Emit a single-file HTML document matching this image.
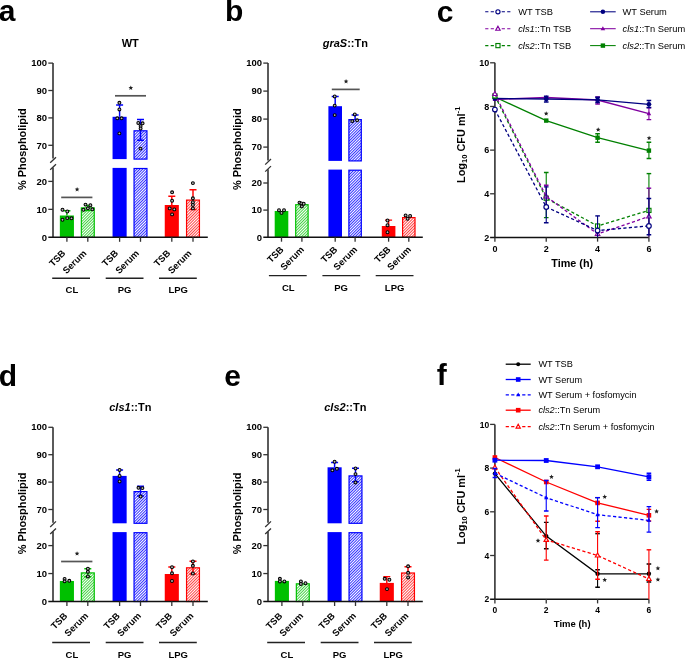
<!DOCTYPE html>
<html><head><meta charset="utf-8"><style>
html,body{margin:0;padding:0;background:#fff;width:685px;height:658px;overflow:hidden}
svg{display:block;will-change:transform}
text{font-family:'Liberation Sans', sans-serif;fill:#000}
</style></head><body>
<svg width="685" height="658" viewBox="0 0 685 658">
<rect width="685" height="658" fill="#fff"/>
<defs>
<pattern id="hg" width="2.0" height="3" patternUnits="userSpaceOnUse" patternTransform="rotate(45)"><rect width="1.0" height="3" fill="#44d444"/></pattern>
<pattern id="hb" width="2.0" height="3" patternUnits="userSpaceOnUse" patternTransform="rotate(45)"><rect width="1.0" height="3" fill="#3333ff"/></pattern>
<pattern id="hr" width="2.0" height="3" patternUnits="userSpaceOnUse" patternTransform="rotate(45)"><rect width="1.0" height="3" fill="#ff4444"/></pattern>
</defs>
<g transform="translate(0,0)">
<text x="-1.2" y="21.1" font-size="30" font-weight="bold">a</text>
<text x="130.3" y="47" text-anchor="middle" font-size="11"><tspan font-weight="bold">WT</tspan></text>
<text transform="translate(26.0,149.2) rotate(-90)" text-anchor="middle" font-size="10.9" font-weight="bold">% Phospholipid</text>
<path d="M53.0,63.1 V158.60 M53.0,167.40 V237.3" stroke="#333333" stroke-width="1.6" fill="none"/>
<path d="M50.2,162.80 L56,157.20 M50.2,169.80 L56,164.30" stroke="#333333" stroke-width="1.3" fill="none"/>
<path d="M48.3,63.10 H53.0" stroke="#333333" stroke-width="1.3"/>
<text x="47" y="66.30" text-anchor="end" font-size="9.5" font-weight="bold">100</text>
<path d="M48.3,90.50 H53.0" stroke="#333333" stroke-width="1.3"/>
<text x="47" y="93.70" text-anchor="end" font-size="9.5" font-weight="bold">90</text>
<path d="M48.3,117.90 H53.0" stroke="#333333" stroke-width="1.3"/>
<text x="47" y="121.10" text-anchor="end" font-size="9.5" font-weight="bold">80</text>
<path d="M48.3,145.30 H53.0" stroke="#333333" stroke-width="1.3"/>
<text x="47" y="148.50" text-anchor="end" font-size="9.5" font-weight="bold">70</text>
<path d="M48.3,181.40 H53.0" stroke="#333333" stroke-width="1.3"/>
<text x="47" y="184.60" text-anchor="end" font-size="9.5" font-weight="bold">20</text>
<path d="M48.3,209.35 H53.0" stroke="#333333" stroke-width="1.3"/>
<text x="47" y="212.55" text-anchor="end" font-size="9.5" font-weight="bold">10</text>
<text x="47" y="240.60" text-anchor="end" font-size="9.5" font-weight="bold">0</text>
<rect x="59.85" y="215.50" width="14.1" height="21.80" fill="#00c000"/>
<path d="M66.90,210.70 V215.50 M63.40,210.70 H70.40" stroke="#00c000" stroke-width="1.45" fill="none"/>
<circle cx="62.50" cy="209.70" r="1.45" fill="#bbbbbb" stroke="#000" stroke-width="1.05"/>
<circle cx="67.30" cy="211.50" r="1.45" fill="#bbbbbb" stroke="#000" stroke-width="1.05"/>
<circle cx="62.50" cy="219.70" r="1.45" fill="#bbbbbb" stroke="#000" stroke-width="1.05"/>
<circle cx="67.30" cy="218.10" r="1.45" fill="#bbbbbb" stroke="#000" stroke-width="1.05"/>
<circle cx="71.50" cy="218.30" r="1.45" fill="#bbbbbb" stroke="#000" stroke-width="1.05"/>
<rect x="81.35" y="207.90" width="12.9" height="29.40" fill="url(#hg)" stroke="#00c000" stroke-width="1.2"/>
<path d="M87.80,205.50 V207.30 M84.30,205.50 H91.30" stroke="#00c000" stroke-width="1.45" fill="none"/>
<path d="M87.80,207.30 V210.50 M84.30,210.50 H91.30" stroke="#00c000" stroke-width="1.45" fill="none"/>
<circle cx="83.40" cy="209.70" r="1.45" fill="#bbbbbb" stroke="#000" stroke-width="1.05"/>
<circle cx="87.90" cy="208.30" r="1.45" fill="#bbbbbb" stroke="#000" stroke-width="1.05"/>
<circle cx="92.40" cy="209.30" r="1.45" fill="#bbbbbb" stroke="#000" stroke-width="1.05"/>
<circle cx="85.50" cy="204.60" r="1.45" fill="#bbbbbb" stroke="#000" stroke-width="1.05"/>
<circle cx="90.40" cy="205.20" r="1.45" fill="#bbbbbb" stroke="#000" stroke-width="1.05"/>
<rect x="112.55" y="116.80" width="14.1" height="42.30" fill="#0000ff"/>
<rect x="112.55" y="167.90" width="14.1" height="69.40" fill="#0000ff"/>
<path d="M119.60,104.90 V116.80 M116.10,104.90 H123.10" stroke="#0000ff" stroke-width="1.45" fill="none"/>
<circle cx="119.40" cy="102.80" r="1.45" fill="#bbbbbb" stroke="#000" stroke-width="1.05"/>
<circle cx="119.40" cy="109.40" r="1.45" fill="#bbbbbb" stroke="#000" stroke-width="1.05"/>
<circle cx="117.30" cy="118.30" r="1.45" fill="#bbbbbb" stroke="#000" stroke-width="1.05"/>
<circle cx="121.60" cy="118.30" r="1.45" fill="#bbbbbb" stroke="#000" stroke-width="1.05"/>
<circle cx="119.40" cy="133.40" r="1.45" fill="#bbbbbb" stroke="#000" stroke-width="1.05"/>
<rect x="134.05" y="130.80" width="12.9" height="28.30" fill="url(#hb)" stroke="#0000ff" stroke-width="1.2"/>
<rect x="134.05" y="168.50" width="12.9" height="68.80" fill="url(#hb)" stroke="#0000ff" stroke-width="1.2"/>
<path d="M140.50,119.40 V130.20 M137.00,119.40 H144.00" stroke="#0000ff" stroke-width="1.45" fill="none"/>
<path d="M140.50,130.20 V140.30 M137.00,140.30 H144.00" stroke="#0000ff" stroke-width="1.45" fill="none"/>
<circle cx="138.30" cy="122.90" r="1.45" fill="#bbbbbb" stroke="#000" stroke-width="1.05"/>
<circle cx="142.60" cy="123.30" r="1.45" fill="#bbbbbb" stroke="#000" stroke-width="1.05"/>
<circle cx="140.60" cy="126.10" r="1.45" fill="#bbbbbb" stroke="#000" stroke-width="1.05"/>
<circle cx="140.60" cy="128.50" r="1.45" fill="#bbbbbb" stroke="#000" stroke-width="1.05"/>
<circle cx="140.50" cy="148.60" r="1.45" fill="#bbbbbb" stroke="#000" stroke-width="1.05"/>
<rect x="164.75" y="205.00" width="14.1" height="32.30" fill="#ff0000"/>
<path d="M171.80,196.30 V205.00 M168.30,196.30 H175.30" stroke="#ff0000" stroke-width="1.45" fill="none"/>
<circle cx="172.10" cy="192.30" r="1.45" fill="#bbbbbb" stroke="#000" stroke-width="1.05"/>
<circle cx="172.10" cy="200.70" r="1.45" fill="#bbbbbb" stroke="#000" stroke-width="1.05"/>
<circle cx="169.70" cy="208.40" r="1.45" fill="#bbbbbb" stroke="#000" stroke-width="1.05"/>
<circle cx="174.30" cy="209.40" r="1.45" fill="#bbbbbb" stroke="#000" stroke-width="1.05"/>
<circle cx="172.10" cy="214.40" r="1.45" fill="#bbbbbb" stroke="#000" stroke-width="1.05"/>
<rect x="186.55" y="200.10" width="12.9" height="37.20" fill="url(#hr)" stroke="#ff0000" stroke-width="1.2"/>
<path d="M193.00,189.70 V199.50 M189.50,189.70 H196.50" stroke="#ff0000" stroke-width="1.45" fill="none"/>
<path d="M193.00,199.50 V209.40 M189.50,209.40 H196.50" stroke="#ff0000" stroke-width="1.45" fill="none"/>
<circle cx="192.90" cy="183.10" r="1.45" fill="#bbbbbb" stroke="#000" stroke-width="1.05"/>
<circle cx="192.90" cy="198.30" r="1.45" fill="#bbbbbb" stroke="#000" stroke-width="1.05"/>
<circle cx="192.90" cy="202.20" r="1.45" fill="#bbbbbb" stroke="#000" stroke-width="1.05"/>
<circle cx="192.90" cy="204.90" r="1.45" fill="#bbbbbb" stroke="#000" stroke-width="1.05"/>
<circle cx="192.90" cy="208.40" r="1.45" fill="#bbbbbb" stroke="#000" stroke-width="1.05"/>
<path d="M48.3,237.3 H207.8" stroke="#111" stroke-width="1.6"/>
<path d="M66.9,237.3 V241.80" stroke="#333333" stroke-width="1.3"/>
<path d="M87.8,237.3 V241.80" stroke="#333333" stroke-width="1.3"/>
<path d="M119.6,237.3 V241.80" stroke="#333333" stroke-width="1.3"/>
<path d="M140.5,237.3 V241.80" stroke="#333333" stroke-width="1.3"/>
<path d="M171.8,237.3 V241.80" stroke="#333333" stroke-width="1.3"/>
<path d="M193.0,237.3 V241.80" stroke="#333333" stroke-width="1.3"/>
<text transform="translate(66.10,253.80) rotate(-45)" text-anchor="end" font-size="9.3" font-weight="bold">TSB</text>
<text transform="translate(87.00,253.80) rotate(-45)" text-anchor="end" font-size="9.3" font-weight="bold">Serum</text>
<text transform="translate(118.80,253.80) rotate(-45)" text-anchor="end" font-size="9.3" font-weight="bold">TSB</text>
<text transform="translate(139.70,253.80) rotate(-45)" text-anchor="end" font-size="9.3" font-weight="bold">Serum</text>
<text transform="translate(171.00,253.80) rotate(-45)" text-anchor="end" font-size="9.3" font-weight="bold">TSB</text>
<text transform="translate(192.20,253.80) rotate(-45)" text-anchor="end" font-size="9.3" font-weight="bold">Serum</text>
<path d="M52.20,278.30 H90.00" stroke="#222" stroke-width="1.4"/>
<text x="71.90" y="293.40" text-anchor="middle" font-size="9.5" font-weight="bold">CL</text>
<path d="M105.70,278.30 H143.50" stroke="#222" stroke-width="1.4"/>
<text x="124.60" y="293.40" text-anchor="middle" font-size="9.5" font-weight="bold">PG</text>
<path d="M159.00,278.30 H196.80" stroke="#222" stroke-width="1.4"/>
<text x="178.20" y="293.40" text-anchor="middle" font-size="9.5" font-weight="bold">LPG</text>
<path d="M61.2,197.4 H92.4" stroke="#555" stroke-width="1.7"/>
<polygon points="77.10,187.05 77.75,188.61 79.43,188.74 78.15,189.84 78.54,191.48 77.10,190.60 75.66,191.48 76.05,189.84 74.77,188.74 76.45,188.61" fill="#222"/>
<path d="M115,95.8 H146" stroke="#555" stroke-width="1.7"/>
<polygon points="130.80,85.45 131.45,87.01 133.13,87.14 131.85,88.24 132.24,89.88 130.80,89.00 129.36,89.88 129.75,88.24 128.47,87.14 130.15,87.01" fill="#222"/>
</g>
<g transform="translate(215,0)">
<text x="10.0" y="21.2" font-size="30" font-weight="bold">b</text>
<text x="130.3" y="47" text-anchor="middle" font-size="11"><tspan font-weight="bold" font-style="italic">graS</tspan><tspan font-weight="bold">::Tn</tspan></text>
<text transform="translate(26.0,149.2) rotate(-90)" text-anchor="middle" font-size="10.9" font-weight="bold">% Phospholipid</text>
<path d="M53.0,63.1 V160.40 M53.0,169.20 V237.2" stroke="#333333" stroke-width="1.6" fill="none"/>
<path d="M50.2,164.60 L56,159.00 M50.2,171.60 L56,166.10" stroke="#333333" stroke-width="1.3" fill="none"/>
<path d="M48.3,63.10 H53.0" stroke="#333333" stroke-width="1.3"/>
<text x="47" y="66.30" text-anchor="end" font-size="9.5" font-weight="bold">100</text>
<path d="M48.3,91.10 H53.0" stroke="#333333" stroke-width="1.3"/>
<text x="47" y="94.30" text-anchor="end" font-size="9.5" font-weight="bold">90</text>
<path d="M48.3,119.10 H53.0" stroke="#333333" stroke-width="1.3"/>
<text x="47" y="122.30" text-anchor="end" font-size="9.5" font-weight="bold">80</text>
<path d="M48.3,147.10 H53.0" stroke="#333333" stroke-width="1.3"/>
<text x="47" y="150.30" text-anchor="end" font-size="9.5" font-weight="bold">70</text>
<path d="M48.3,183.00 H53.0" stroke="#333333" stroke-width="1.3"/>
<text x="47" y="186.20" text-anchor="end" font-size="9.5" font-weight="bold">20</text>
<path d="M48.3,210.10 H53.0" stroke="#333333" stroke-width="1.3"/>
<text x="47" y="213.30" text-anchor="end" font-size="9.5" font-weight="bold">10</text>
<text x="47" y="240.50" text-anchor="end" font-size="9.5" font-weight="bold">0</text>
<rect x="59.70" y="211.00" width="13.6" height="26.20" fill="#00c000"/>
<circle cx="64.00" cy="210.20" r="1.45" fill="#bbbbbb" stroke="#000" stroke-width="1.05"/>
<circle cx="69.00" cy="210.20" r="1.45" fill="#bbbbbb" stroke="#000" stroke-width="1.05"/>
<circle cx="66.50" cy="212.90" r="1.45" fill="#bbbbbb" stroke="#000" stroke-width="1.05"/>
<rect x="80.70" y="204.70" width="12.4" height="32.50" fill="url(#hg)" stroke="#00c000" stroke-width="1.2"/>
<circle cx="84.50" cy="202.60" r="1.45" fill="#bbbbbb" stroke="#000" stroke-width="1.05"/>
<circle cx="86.40" cy="203.40" r="1.45" fill="#bbbbbb" stroke="#000" stroke-width="1.05"/>
<circle cx="88.70" cy="203.70" r="1.45" fill="#bbbbbb" stroke="#000" stroke-width="1.05"/>
<circle cx="86.80" cy="206.40" r="1.45" fill="#bbbbbb" stroke="#000" stroke-width="1.05"/>
<rect x="113.40" y="106.20" width="13.6" height="54.70" fill="#0000ff"/>
<rect x="113.40" y="169.60" width="13.6" height="67.60" fill="#0000ff"/>
<path d="M120.20,96.40 V106.20 M116.70,96.40 H123.70" stroke="#0000ff" stroke-width="1.45" fill="none"/>
<circle cx="119.70" cy="96.40" r="1.45" fill="#bbbbbb" stroke="#000" stroke-width="1.05"/>
<circle cx="119.70" cy="105.60" r="1.45" fill="#bbbbbb" stroke="#000" stroke-width="1.05"/>
<circle cx="119.70" cy="115.10" r="1.45" fill="#bbbbbb" stroke="#000" stroke-width="1.05"/>
<rect x="133.90" y="119.60" width="12.4" height="41.30" fill="url(#hb)" stroke="#0000ff" stroke-width="1.2"/>
<rect x="133.90" y="170.20" width="12.4" height="67.00" fill="url(#hb)" stroke="#0000ff" stroke-width="1.2"/>
<path d="M140.10,114.90 V119.00 M136.60,114.90 H143.60" stroke="#0000ff" stroke-width="1.45" fill="none"/>
<circle cx="139.80" cy="114.40" r="1.45" fill="#bbbbbb" stroke="#000" stroke-width="1.05"/>
<circle cx="137.30" cy="121.10" r="1.45" fill="#bbbbbb" stroke="#000" stroke-width="1.05"/>
<circle cx="142.10" cy="120.30" r="1.45" fill="#bbbbbb" stroke="#000" stroke-width="1.05"/>
<rect x="166.80" y="226.00" width="13.6" height="11.20" fill="#ff0000"/>
<path d="M173.60,220.10 V226.00 M170.10,220.10 H177.10" stroke="#ff0000" stroke-width="1.45" fill="none"/>
<circle cx="172.50" cy="220.50" r="1.45" fill="#bbbbbb" stroke="#000" stroke-width="1.05"/>
<circle cx="172.50" cy="225.20" r="1.45" fill="#bbbbbb" stroke="#000" stroke-width="1.05"/>
<circle cx="172.50" cy="232.20" r="1.45" fill="#bbbbbb" stroke="#000" stroke-width="1.05"/>
<rect x="187.60" y="217.60" width="12.4" height="19.60" fill="url(#hr)" stroke="#ff0000" stroke-width="1.2"/>
<circle cx="190.60" cy="215.40" r="1.45" fill="#bbbbbb" stroke="#000" stroke-width="1.05"/>
<circle cx="195.10" cy="215.90" r="1.45" fill="#bbbbbb" stroke="#000" stroke-width="1.05"/>
<circle cx="192.60" cy="218.70" r="1.45" fill="#bbbbbb" stroke="#000" stroke-width="1.05"/>
<path d="M48.3,237.2 H207.8" stroke="#111" stroke-width="1.6"/>
<path d="M66.5,237.2 V241.70" stroke="#333333" stroke-width="1.3"/>
<path d="M86.9,237.2 V241.70" stroke="#333333" stroke-width="1.3"/>
<path d="M120.2,237.2 V241.70" stroke="#333333" stroke-width="1.3"/>
<path d="M140.1,237.2 V241.70" stroke="#333333" stroke-width="1.3"/>
<path d="M173.6,237.2 V241.70" stroke="#333333" stroke-width="1.3"/>
<path d="M193.8,237.2 V241.70" stroke="#333333" stroke-width="1.3"/>
<text transform="translate(69.20,250.20) rotate(-45)" text-anchor="end" font-size="9.3" font-weight="bold">TSB</text>
<text transform="translate(89.60,250.20) rotate(-45)" text-anchor="end" font-size="9.3" font-weight="bold">Serum</text>
<text transform="translate(122.90,250.20) rotate(-45)" text-anchor="end" font-size="9.3" font-weight="bold">TSB</text>
<text transform="translate(142.80,250.20) rotate(-45)" text-anchor="end" font-size="9.3" font-weight="bold">Serum</text>
<text transform="translate(176.30,250.20) rotate(-45)" text-anchor="end" font-size="9.3" font-weight="bold">TSB</text>
<text transform="translate(196.50,250.20) rotate(-45)" text-anchor="end" font-size="9.3" font-weight="bold">Serum</text>
<path d="M53.90,275.60 H91.70" stroke="#222" stroke-width="1.4"/>
<text x="73.30" y="290.50" text-anchor="middle" font-size="9.5" font-weight="bold">CL</text>
<path d="M107.40,275.60 H145.20" stroke="#222" stroke-width="1.4"/>
<text x="126.00" y="290.50" text-anchor="middle" font-size="9.5" font-weight="bold">PG</text>
<path d="M160.70,275.60 H198.50" stroke="#222" stroke-width="1.4"/>
<text x="179.60" y="290.50" text-anchor="middle" font-size="9.5" font-weight="bold">LPG</text>
<path d="M116.8,89.4 H144.7" stroke="#555" stroke-width="1.7"/>
<polygon points="131.05,79.05 131.70,80.61 133.38,80.74 132.10,81.84 132.49,83.48 131.05,82.60 129.61,83.48 130.00,81.84 128.72,80.74 130.40,80.61" fill="#222"/>
</g>
<g transform="translate(0,364.2)">
<text x="-1.2" y="21.8" font-size="30" font-weight="bold">d</text>
<text x="130.3" y="47" text-anchor="middle" font-size="11"><tspan font-weight="bold" font-style="italic">cls1</tspan><tspan font-weight="bold">::Tn</tspan></text>
<text transform="translate(26.0,149.2) rotate(-90)" text-anchor="middle" font-size="10.9" font-weight="bold">% Phospholipid</text>
<path d="M53.0,63.1 V158.60 M53.0,167.40 V237.3" stroke="#333333" stroke-width="1.6" fill="none"/>
<path d="M50.2,162.80 L56,157.20 M50.2,169.80 L56,164.30" stroke="#333333" stroke-width="1.3" fill="none"/>
<path d="M48.3,63.10 H53.0" stroke="#333333" stroke-width="1.3"/>
<text x="47" y="66.30" text-anchor="end" font-size="9.5" font-weight="bold">100</text>
<path d="M48.3,90.50 H53.0" stroke="#333333" stroke-width="1.3"/>
<text x="47" y="93.70" text-anchor="end" font-size="9.5" font-weight="bold">90</text>
<path d="M48.3,117.90 H53.0" stroke="#333333" stroke-width="1.3"/>
<text x="47" y="121.10" text-anchor="end" font-size="9.5" font-weight="bold">80</text>
<path d="M48.3,145.30 H53.0" stroke="#333333" stroke-width="1.3"/>
<text x="47" y="148.50" text-anchor="end" font-size="9.5" font-weight="bold">70</text>
<path d="M48.3,181.40 H53.0" stroke="#333333" stroke-width="1.3"/>
<text x="47" y="184.60" text-anchor="end" font-size="9.5" font-weight="bold">20</text>
<path d="M48.3,209.35 H53.0" stroke="#333333" stroke-width="1.3"/>
<text x="47" y="212.55" text-anchor="end" font-size="9.5" font-weight="bold">10</text>
<text x="47" y="240.60" text-anchor="end" font-size="9.5" font-weight="bold">0</text>
<rect x="59.85" y="216.80" width="14.1" height="20.50" fill="#00c000"/>
<circle cx="64.60" cy="214.80" r="1.45" fill="#bbbbbb" stroke="#000" stroke-width="1.05"/>
<circle cx="64.60" cy="217.10" r="1.45" fill="#bbbbbb" stroke="#000" stroke-width="1.05"/>
<circle cx="69.30" cy="216.60" r="1.45" fill="#bbbbbb" stroke="#000" stroke-width="1.05"/>
<rect x="81.35" y="208.70" width="12.9" height="28.60" fill="url(#hg)" stroke="#00c000" stroke-width="1.2"/>
<path d="M87.80,204.50 V208.10 M84.30,204.50 H91.30" stroke="#00c000" stroke-width="1.45" fill="none"/>
<path d="M87.80,208.10 V212.60 M84.30,212.60 H91.30" stroke="#00c000" stroke-width="1.45" fill="none"/>
<circle cx="87.90" cy="204.50" r="1.45" fill="#bbbbbb" stroke="#000" stroke-width="1.05"/>
<circle cx="87.90" cy="207.60" r="1.45" fill="#bbbbbb" stroke="#000" stroke-width="1.05"/>
<circle cx="87.90" cy="212.20" r="1.45" fill="#bbbbbb" stroke="#000" stroke-width="1.05"/>
<rect x="112.55" y="111.70" width="14.1" height="47.40" fill="#0000ff"/>
<rect x="112.55" y="167.90" width="14.1" height="69.40" fill="#0000ff"/>
<path d="M119.60,105.70 V111.70 M116.10,105.70 H123.10" stroke="#0000ff" stroke-width="1.45" fill="none"/>
<circle cx="119.60" cy="105.70" r="1.45" fill="#bbbbbb" stroke="#000" stroke-width="1.05"/>
<circle cx="119.60" cy="111.70" r="1.45" fill="#bbbbbb" stroke="#000" stroke-width="1.05"/>
<circle cx="119.60" cy="117.20" r="1.45" fill="#bbbbbb" stroke="#000" stroke-width="1.05"/>
<rect x="134.05" y="127.40" width="12.9" height="31.70" fill="url(#hb)" stroke="#0000ff" stroke-width="1.2"/>
<rect x="134.05" y="168.50" width="12.9" height="68.80" fill="url(#hb)" stroke="#0000ff" stroke-width="1.2"/>
<path d="M140.50,122.00 V126.80 M137.00,122.00 H144.00" stroke="#0000ff" stroke-width="1.45" fill="none"/>
<path d="M140.50,126.80 V131.80 M137.00,131.80 H144.00" stroke="#0000ff" stroke-width="1.45" fill="none"/>
<circle cx="138.50" cy="123.60" r="1.45" fill="#bbbbbb" stroke="#000" stroke-width="1.05"/>
<circle cx="142.40" cy="123.90" r="1.45" fill="#bbbbbb" stroke="#000" stroke-width="1.05"/>
<circle cx="140.60" cy="132.30" r="1.45" fill="#bbbbbb" stroke="#000" stroke-width="1.05"/>
<rect x="164.75" y="209.80" width="14.1" height="27.50" fill="#ff0000"/>
<path d="M171.80,202.70 V209.80 M168.30,202.70 H175.30" stroke="#ff0000" stroke-width="1.45" fill="none"/>
<circle cx="172.00" cy="203.00" r="1.45" fill="#bbbbbb" stroke="#000" stroke-width="1.05"/>
<circle cx="172.00" cy="209.10" r="1.45" fill="#bbbbbb" stroke="#000" stroke-width="1.05"/>
<circle cx="172.00" cy="216.80" r="1.45" fill="#bbbbbb" stroke="#000" stroke-width="1.05"/>
<rect x="186.55" y="203.60" width="12.9" height="33.70" fill="url(#hr)" stroke="#ff0000" stroke-width="1.2"/>
<path d="M193.00,197.00 V203.00 M189.50,197.00 H196.50" stroke="#ff0000" stroke-width="1.45" fill="none"/>
<path d="M193.00,203.00 V209.80 M189.50,209.80 H196.50" stroke="#ff0000" stroke-width="1.45" fill="none"/>
<circle cx="192.90" cy="197.20" r="1.45" fill="#bbbbbb" stroke="#000" stroke-width="1.05"/>
<circle cx="192.90" cy="201.60" r="1.45" fill="#bbbbbb" stroke="#000" stroke-width="1.05"/>
<circle cx="192.90" cy="209.30" r="1.45" fill="#bbbbbb" stroke="#000" stroke-width="1.05"/>
<path d="M48.3,237.3 H207.8" stroke="#111" stroke-width="1.6"/>
<path d="M66.9,237.3 V241.80" stroke="#333333" stroke-width="1.3"/>
<path d="M87.8,237.3 V241.80" stroke="#333333" stroke-width="1.3"/>
<path d="M119.6,237.3 V241.80" stroke="#333333" stroke-width="1.3"/>
<path d="M140.5,237.3 V241.80" stroke="#333333" stroke-width="1.3"/>
<path d="M171.8,237.3 V241.80" stroke="#333333" stroke-width="1.3"/>
<path d="M193.0,237.3 V241.80" stroke="#333333" stroke-width="1.3"/>
<text transform="translate(67.90,252.30) rotate(-45)" text-anchor="end" font-size="9.3" font-weight="bold">TSB</text>
<text transform="translate(88.80,252.30) rotate(-45)" text-anchor="end" font-size="9.3" font-weight="bold">Serum</text>
<text transform="translate(120.60,252.30) rotate(-45)" text-anchor="end" font-size="9.3" font-weight="bold">TSB</text>
<text transform="translate(141.50,252.30) rotate(-45)" text-anchor="end" font-size="9.3" font-weight="bold">Serum</text>
<text transform="translate(172.80,252.30) rotate(-45)" text-anchor="end" font-size="9.3" font-weight="bold">TSB</text>
<text transform="translate(194.00,252.30) rotate(-45)" text-anchor="end" font-size="9.3" font-weight="bold">Serum</text>
<path d="M52.20,278.30 H90.00" stroke="#222" stroke-width="1.4"/>
<text x="71.90" y="293.40" text-anchor="middle" font-size="9.5" font-weight="bold">CL</text>
<path d="M105.70,278.30 H143.50" stroke="#222" stroke-width="1.4"/>
<text x="124.60" y="293.40" text-anchor="middle" font-size="9.5" font-weight="bold">PG</text>
<path d="M159.00,278.30 H196.80" stroke="#222" stroke-width="1.4"/>
<text x="178.20" y="293.40" text-anchor="middle" font-size="9.5" font-weight="bold">LPG</text>
<path d="M61.1,197.3 H92.4" stroke="#555" stroke-width="1.7"/>
<polygon points="77.05,186.95 77.70,188.51 79.38,188.64 78.10,189.74 78.49,191.38 77.05,190.50 75.61,191.38 76.00,189.74 74.72,188.64 76.40,188.51" fill="#222"/>
</g>
<g transform="translate(215,364.2)">
<text x="9.2" y="21.8" font-size="30" font-weight="bold">e</text>
<text x="130.3" y="47" text-anchor="middle" font-size="11"><tspan font-weight="bold" font-style="italic">cls2</tspan><tspan font-weight="bold">::Tn</tspan></text>
<text transform="translate(26.0,149.2) rotate(-90)" text-anchor="middle" font-size="10.9" font-weight="bold">% Phospholipid</text>
<path d="M53.0,63.1 V158.60 M53.0,167.40 V237.3" stroke="#333333" stroke-width="1.6" fill="none"/>
<path d="M50.2,162.80 L56,157.20 M50.2,169.80 L56,164.30" stroke="#333333" stroke-width="1.3" fill="none"/>
<path d="M48.3,63.10 H53.0" stroke="#333333" stroke-width="1.3"/>
<text x="47" y="66.30" text-anchor="end" font-size="9.5" font-weight="bold">100</text>
<path d="M48.3,90.50 H53.0" stroke="#333333" stroke-width="1.3"/>
<text x="47" y="93.70" text-anchor="end" font-size="9.5" font-weight="bold">90</text>
<path d="M48.3,117.90 H53.0" stroke="#333333" stroke-width="1.3"/>
<text x="47" y="121.10" text-anchor="end" font-size="9.5" font-weight="bold">80</text>
<path d="M48.3,145.30 H53.0" stroke="#333333" stroke-width="1.3"/>
<text x="47" y="148.50" text-anchor="end" font-size="9.5" font-weight="bold">70</text>
<path d="M48.3,181.40 H53.0" stroke="#333333" stroke-width="1.3"/>
<text x="47" y="184.60" text-anchor="end" font-size="9.5" font-weight="bold">20</text>
<path d="M48.3,209.35 H53.0" stroke="#333333" stroke-width="1.3"/>
<text x="47" y="212.55" text-anchor="end" font-size="9.5" font-weight="bold">10</text>
<text x="47" y="240.60" text-anchor="end" font-size="9.5" font-weight="bold">0</text>
<rect x="59.85" y="216.70" width="14.1" height="20.60" fill="#00c000"/>
<circle cx="64.90" cy="214.60" r="1.45" fill="#bbbbbb" stroke="#000" stroke-width="1.05"/>
<circle cx="64.90" cy="217.20" r="1.45" fill="#bbbbbb" stroke="#000" stroke-width="1.05"/>
<circle cx="69.40" cy="217.20" r="1.45" fill="#bbbbbb" stroke="#000" stroke-width="1.05"/>
<rect x="81.35" y="219.60" width="12.9" height="17.70" fill="url(#hg)" stroke="#00c000" stroke-width="1.2"/>
<circle cx="85.90" cy="217.20" r="1.45" fill="#bbbbbb" stroke="#000" stroke-width="1.05"/>
<circle cx="85.90" cy="219.70" r="1.45" fill="#bbbbbb" stroke="#000" stroke-width="1.05"/>
<circle cx="90.50" cy="219.00" r="1.45" fill="#bbbbbb" stroke="#000" stroke-width="1.05"/>
<rect x="112.55" y="103.10" width="14.1" height="56.00" fill="#0000ff"/>
<rect x="112.55" y="167.90" width="14.1" height="69.40" fill="#0000ff"/>
<path d="M119.60,98.20 V103.10 M116.10,98.20 H123.10" stroke="#0000ff" stroke-width="1.45" fill="none"/>
<circle cx="119.60" cy="97.50" r="1.45" fill="#bbbbbb" stroke="#000" stroke-width="1.05"/>
<circle cx="117.40" cy="106.10" r="1.45" fill="#bbbbbb" stroke="#000" stroke-width="1.05"/>
<circle cx="121.90" cy="104.60" r="1.45" fill="#bbbbbb" stroke="#000" stroke-width="1.05"/>
<rect x="134.05" y="111.70" width="12.9" height="47.40" fill="url(#hb)" stroke="#0000ff" stroke-width="1.2"/>
<rect x="134.05" y="168.50" width="12.9" height="68.80" fill="url(#hb)" stroke="#0000ff" stroke-width="1.2"/>
<path d="M140.50,104.00 V111.10 M137.00,104.00 H144.00" stroke="#0000ff" stroke-width="1.45" fill="none"/>
<path d="M140.50,111.10 V117.60 M137.00,117.60 H144.00" stroke="#0000ff" stroke-width="1.45" fill="none"/>
<circle cx="140.50" cy="104.20" r="1.45" fill="#bbbbbb" stroke="#000" stroke-width="1.05"/>
<circle cx="140.50" cy="109.90" r="1.45" fill="#bbbbbb" stroke="#000" stroke-width="1.05"/>
<circle cx="140.50" cy="118.20" r="1.45" fill="#bbbbbb" stroke="#000" stroke-width="1.05"/>
<rect x="164.75" y="218.70" width="14.1" height="18.60" fill="#ff0000"/>
<path d="M171.80,212.40 V218.70 M168.30,212.40 H175.30" stroke="#ff0000" stroke-width="1.45" fill="none"/>
<circle cx="169.70" cy="214.60" r="1.45" fill="#bbbbbb" stroke="#000" stroke-width="1.05"/>
<circle cx="174.40" cy="215.50" r="1.45" fill="#bbbbbb" stroke="#000" stroke-width="1.05"/>
<circle cx="172.00" cy="224.90" r="1.45" fill="#bbbbbb" stroke="#000" stroke-width="1.05"/>
<rect x="186.55" y="208.80" width="12.9" height="28.50" fill="url(#hr)" stroke="#ff0000" stroke-width="1.2"/>
<path d="M193.00,202.50 V208.20 M189.50,202.50 H196.50" stroke="#ff0000" stroke-width="1.45" fill="none"/>
<circle cx="193.10" cy="202.10" r="1.45" fill="#bbbbbb" stroke="#000" stroke-width="1.05"/>
<circle cx="193.10" cy="208.60" r="1.45" fill="#bbbbbb" stroke="#000" stroke-width="1.05"/>
<circle cx="193.10" cy="213.20" r="1.45" fill="#bbbbbb" stroke="#000" stroke-width="1.05"/>
<path d="M48.3,237.3 H207.8" stroke="#111" stroke-width="1.6"/>
<path d="M66.9,237.3 V241.80" stroke="#333333" stroke-width="1.3"/>
<path d="M87.8,237.3 V241.80" stroke="#333333" stroke-width="1.3"/>
<path d="M119.6,237.3 V241.80" stroke="#333333" stroke-width="1.3"/>
<path d="M140.5,237.3 V241.80" stroke="#333333" stroke-width="1.3"/>
<path d="M171.8,237.3 V241.80" stroke="#333333" stroke-width="1.3"/>
<path d="M193.0,237.3 V241.80" stroke="#333333" stroke-width="1.3"/>
<text transform="translate(67.90,252.30) rotate(-45)" text-anchor="end" font-size="9.3" font-weight="bold">TSB</text>
<text transform="translate(88.80,252.30) rotate(-45)" text-anchor="end" font-size="9.3" font-weight="bold">Serum</text>
<text transform="translate(120.60,252.30) rotate(-45)" text-anchor="end" font-size="9.3" font-weight="bold">TSB</text>
<text transform="translate(141.50,252.30) rotate(-45)" text-anchor="end" font-size="9.3" font-weight="bold">Serum</text>
<text transform="translate(172.80,252.30) rotate(-45)" text-anchor="end" font-size="9.3" font-weight="bold">TSB</text>
<text transform="translate(194.00,252.30) rotate(-45)" text-anchor="end" font-size="9.3" font-weight="bold">Serum</text>
<path d="M52.20,278.30 H90.00" stroke="#222" stroke-width="1.4"/>
<text x="71.90" y="293.40" text-anchor="middle" font-size="9.5" font-weight="bold">CL</text>
<path d="M105.70,278.30 H143.50" stroke="#222" stroke-width="1.4"/>
<text x="124.60" y="293.40" text-anchor="middle" font-size="9.5" font-weight="bold">PG</text>
<path d="M159.00,278.30 H196.80" stroke="#222" stroke-width="1.4"/>
<text x="178.20" y="293.40" text-anchor="middle" font-size="9.5" font-weight="bold">LPG</text>
</g>
<text x="436.8" y="21.8" font-size="30" font-weight="bold">c</text>
<g>
<path d="M485.2,11.8 H510.7" stroke="#000080" stroke-width="1.05" stroke-dasharray="3.2,2.3"/>
<circle cx="497.95" cy="11.80" r="2.08" fill="#fff" stroke="#000080" stroke-width="1.15"/>
<text x="518.2" y="14.80" font-size="9.3" fill="#333">WT TSB</text>
<path d="M485.2,28.7 H510.7" stroke="#8000a0" stroke-width="1.05" stroke-dasharray="3.2,2.3"/>
<path d="M497.95,26.20 L500.18,30.23 L495.72,30.23 Z" fill="#fff" stroke="#8000a0" stroke-width="1.15" stroke-linejoin="miter"/>
<text x="518.2" y="31.70" font-size="9.3" fill="#333"><tspan font-style="italic">cls1</tspan>::Tn TSB</text>
<path d="M485.2,45.6 H510.7" stroke="#008000" stroke-width="1.05" stroke-dasharray="3.2,2.3"/>
<rect x="495.88" y="43.52" width="4.15" height="4.15" fill="#fff" stroke="#008000" stroke-width="1.15"/>
<text x="518.2" y="48.60" font-size="9.3" fill="#333"><tspan font-style="italic">cls2</tspan>::Tn TSB</text>
<path d="M590.1,11.8 H615.7" stroke="#000080" stroke-width="1.05"/>
<circle cx="602.90" cy="11.80" r="2.25" fill="#000080"/>
<text x="622.6" y="14.80" font-size="9.3" fill="#333">WT Serum</text>
<path d="M590.1,28.7 H615.7" stroke="#8000a0" stroke-width="1.05"/>
<path d="M602.90,26.20 L605.20,30.23 L600.60,30.23 Z" fill="#8000a0"/>
<text x="622.6" y="31.70" font-size="9.3" fill="#333"><tspan font-style="italic">cls1</tspan>::Tn Serum</text>
<path d="M590.1,45.6 H615.7" stroke="#008000" stroke-width="1.05"/>
<rect x="600.70" y="43.40" width="4.40" height="4.40" fill="#008000"/>
<text x="622.6" y="48.60" font-size="9.3" fill="#333"><tspan font-style="italic">cls2</tspan>::Tn Serum</text>
<path d="M494.9,62.8 V237.44" stroke="#333333" stroke-width="1.6" fill="none"/>
<path d="M490.09999999999997,237.44 H648.92" stroke="#111" stroke-width="1.6" fill="none"/>
<path d="M490.09999999999997,62.80 H494.9" stroke="#333333" stroke-width="1.3"/>
<path d="M490.09999999999997,106.46 H494.9" stroke="#333333" stroke-width="1.3"/>
<path d="M490.09999999999997,150.12 H494.9" stroke="#333333" stroke-width="1.3"/>
<path d="M490.09999999999997,193.78 H494.9" stroke="#333333" stroke-width="1.3"/>
<text x="489.3" y="66.00" text-anchor="end" font-size="9" font-weight="bold">10</text>
<text x="489.3" y="109.66" text-anchor="end" font-size="9" font-weight="bold">8</text>
<text x="489.3" y="153.32" text-anchor="end" font-size="9" font-weight="bold">6</text>
<text x="489.3" y="196.98" text-anchor="end" font-size="9" font-weight="bold">4</text>
<text x="489.3" y="240.64" text-anchor="end" font-size="9" font-weight="bold">2</text>
<path d="M494.90,237.44 V241.64" stroke="#333333" stroke-width="1.3"/>
<text x="494.90" y="252.34" text-anchor="middle" font-size="9" font-weight="bold">0</text>
<path d="M546.24,237.44 V241.64" stroke="#333333" stroke-width="1.3"/>
<text x="546.24" y="252.34" text-anchor="middle" font-size="9" font-weight="bold">2</text>
<path d="M597.58,237.44 V241.64" stroke="#333333" stroke-width="1.3"/>
<text x="597.58" y="252.34" text-anchor="middle" font-size="9" font-weight="bold">4</text>
<path d="M648.92,237.44 V241.64" stroke="#333333" stroke-width="1.3"/>
<text x="648.92" y="252.34" text-anchor="middle" font-size="9" font-weight="bold">6</text>
<text x="572.2" y="267.2" text-anchor="middle" font-size="10.8" font-weight="bold">Time (h)</text>
<text transform="translate(464.8,144.80) rotate(-90)" text-anchor="middle" font-size="10.9" font-weight="bold">Log<tspan font-size="7.6" dy="2.6">10</tspan><tspan dy="-2.6"> CFU ml</tspan><tspan font-size="7.6" dy="-4.8">-1</tspan></text>
<path d="M597.58,133.70 V142.20" stroke="#008000" stroke-width="1.1" fill="none"/>
<path d="M595.28,133.70 H599.88 M595.28,142.20 H599.88" stroke="#008000" stroke-width="1.4" fill="none"/>
<path d="M648.92,142.20 V158.50" stroke="#008000" stroke-width="1.1" fill="none"/>
<path d="M646.62,142.20 H651.22 M646.62,158.50 H651.22" stroke="#008000" stroke-width="1.4" fill="none"/>
<polyline points="494.90,97.00 546.24,120.60 597.58,137.70 648.92,150.60" fill="none" stroke="#008000" stroke-width="1.3"/>
<rect x="492.70" y="94.80" width="4.40" height="4.40" fill="#008000"/>
<rect x="544.04" y="118.40" width="4.40" height="4.40" fill="#008000"/>
<rect x="595.38" y="135.50" width="4.40" height="4.40" fill="#008000"/>
<rect x="646.72" y="148.40" width="4.40" height="4.40" fill="#008000"/>
<path d="M597.58,97.00 V104.00" stroke="#8000a0" stroke-width="1.1" fill="none"/>
<path d="M595.28,97.00 H599.88 M595.28,104.00 H599.88" stroke="#8000a0" stroke-width="1.4" fill="none"/>
<path d="M648.92,107.80 V119.60" stroke="#8000a0" stroke-width="1.1" fill="none"/>
<path d="M646.62,107.80 H651.22 M646.62,119.60 H651.22" stroke="#8000a0" stroke-width="1.4" fill="none"/>
<polyline points="494.90,99.50 546.24,97.50 597.58,100.00 648.92,113.70" fill="none" stroke="#8000a0" stroke-width="1.3"/>
<path d="M494.90,97.00 L497.20,101.03 L492.60,101.03 Z" fill="#8000a0"/>
<path d="M546.24,95.00 L548.54,99.03 L543.94,99.03 Z" fill="#8000a0"/>
<path d="M597.58,97.50 L599.88,101.53 L595.28,101.53 Z" fill="#8000a0"/>
<path d="M648.92,111.20 L651.22,115.23 L646.62,115.23 Z" fill="#8000a0"/>
<path d="M546.24,96.20 V102.00" stroke="#000080" stroke-width="1.1" fill="none"/>
<path d="M543.94,96.20 H548.54 M543.94,102.00 H548.54" stroke="#000080" stroke-width="1.4" fill="none"/>
<path d="M597.58,97.20 V102.60" stroke="#000080" stroke-width="1.1" fill="none"/>
<path d="M595.28,97.20 H599.88 M595.28,102.60 H599.88" stroke="#000080" stroke-width="1.4" fill="none"/>
<path d="M648.92,100.50 V107.50" stroke="#000080" stroke-width="1.1" fill="none"/>
<path d="M646.62,100.50 H651.22 M646.62,107.50 H651.22" stroke="#000080" stroke-width="1.4" fill="none"/>
<polyline points="494.90,98.50 546.24,99.00 597.58,99.90 648.92,104.30" fill="none" stroke="#000080" stroke-width="1.3"/>
<circle cx="494.90" cy="98.50" r="2.40" fill="#000080"/>
<circle cx="546.24" cy="99.00" r="2.40" fill="#000080"/>
<circle cx="597.58" cy="99.90" r="2.40" fill="#000080"/>
<circle cx="648.92" cy="104.30" r="2.40" fill="#000080"/>
<path d="M546.24,172.50 V217.60" stroke="#008000" stroke-width="1.1" fill="none"/>
<path d="M543.94,172.50 H548.54 M543.94,217.60 H548.54" stroke="#008000" stroke-width="1.4" fill="none"/>
<path d="M648.92,173.60 V237.44" stroke="#008000" stroke-width="1.1" fill="none"/>
<path d="M646.62,173.60 H651.22" stroke="#008000" stroke-width="1.4" fill="none"/>
<polyline points="494.90,95.90 546.24,198.20 597.58,226.00 648.92,210.40" fill="none" stroke="#008000" stroke-width="1.3" stroke-dasharray="3.2,2.3"/>
<rect x="492.82" y="93.83" width="4.15" height="4.15" fill="#fff" stroke="#008000" stroke-width="1.15"/>
<rect x="544.16" y="196.12" width="4.15" height="4.15" fill="#fff" stroke="#008000" stroke-width="1.15"/>
<rect x="595.50" y="223.93" width="4.15" height="4.15" fill="#fff" stroke="#008000" stroke-width="1.15"/>
<rect x="646.84" y="208.33" width="4.15" height="4.15" fill="#fff" stroke="#008000" stroke-width="1.15"/>
<path d="M546.24,185.30 V208.00" stroke="#8000a0" stroke-width="1.1" fill="none"/>
<path d="M543.94,185.30 H548.54 M543.94,208.00 H548.54" stroke="#8000a0" stroke-width="1.4" fill="none"/>
<path d="M648.92,188.20 V237.44" stroke="#8000a0" stroke-width="1.1" fill="none"/>
<path d="M646.62,188.20 H651.22" stroke="#8000a0" stroke-width="1.4" fill="none"/>
<polyline points="494.90,94.00 546.24,196.50 597.58,234.00 648.92,216.50" fill="none" stroke="#8000a0" stroke-width="1.3" stroke-dasharray="3.2,2.3"/>
<path d="M494.90,91.50 L497.13,95.53 L492.67,95.53 Z" fill="#fff" stroke="#8000a0" stroke-width="1.15" stroke-linejoin="miter"/>
<path d="M546.24,194.00 L548.47,198.03 L544.01,198.03 Z" fill="#fff" stroke="#8000a0" stroke-width="1.15" stroke-linejoin="miter"/>
<path d="M597.58,231.50 L599.81,235.53 L595.35,235.53 Z" fill="#fff" stroke="#8000a0" stroke-width="1.15" stroke-linejoin="miter"/>
<path d="M648.92,214.00 L651.15,218.03 L646.69,218.03 Z" fill="#fff" stroke="#8000a0" stroke-width="1.15" stroke-linejoin="miter"/>
<path d="M546.24,186.90 V222.80" stroke="#000080" stroke-width="1.1" fill="none"/>
<path d="M543.94,186.90 H548.54 M543.94,222.80 H548.54" stroke="#000080" stroke-width="1.4" fill="none"/>
<path d="M597.58,215.90 V237.44" stroke="#000080" stroke-width="1.1" fill="none"/>
<path d="M595.28,215.90 H599.88" stroke="#000080" stroke-width="1.4" fill="none"/>
<path d="M648.92,198.50 V234.70" stroke="#000080" stroke-width="1.1" fill="none"/>
<path d="M646.62,198.50 H651.22 M646.62,234.70 H651.22" stroke="#000080" stroke-width="1.4" fill="none"/>
<polyline points="494.90,109.60 546.24,207.00 597.58,230.60 648.92,225.90" fill="none" stroke="#000080" stroke-width="1.3" stroke-dasharray="3.2,2.3"/>
<circle cx="494.90" cy="109.60" r="2.33" fill="#fff" stroke="#000080" stroke-width="1.15"/>
<circle cx="546.24" cy="207.00" r="2.33" fill="#fff" stroke="#000080" stroke-width="1.15"/>
<circle cx="597.58" cy="230.60" r="2.33" fill="#fff" stroke="#000080" stroke-width="1.15"/>
<circle cx="648.92" cy="225.90" r="2.33" fill="#fff" stroke="#000080" stroke-width="1.15"/>
<polygon points="546.20,111.15 546.85,112.71 548.53,112.84 547.25,113.94 547.64,115.58 546.20,114.70 544.76,115.58 545.15,113.94 543.87,112.84 545.55,112.71" fill="#222"/>
<polygon points="598.20,127.25 598.85,128.81 600.53,128.94 599.25,130.04 599.64,131.68 598.20,130.80 596.76,131.68 597.15,130.04 595.87,128.94 597.55,128.81" fill="#222"/>
<polygon points="649.10,135.65 649.75,137.21 651.43,137.34 650.15,138.44 650.54,140.08 649.10,139.20 647.66,140.08 648.05,138.44 646.77,137.34 648.45,137.21" fill="#222"/>
</g>
<text x="436.8" y="385.2" font-size="30" font-weight="bold">f</text>
<g>
<path d="M505.7,364.2 H530.7" stroke="#000" stroke-width="1.3"/>
<circle cx="518.20" cy="364.20" r="2.00" fill="#000"/>
<text x="538.4" y="367.20" font-size="9.2" fill="#222">WT TSB</text>
<path d="M505.7,379.5 H530.7" stroke="#0000ff" stroke-width="1.3"/>
<rect x="515.90" y="377.20" width="4.60" height="4.60" fill="#0000ff"/>
<text x="538.4" y="382.50" font-size="9.2" fill="#222">WT Serum</text>
<path d="M505.7,394.9 H530.7" stroke="#0000ff" stroke-width="1.3" stroke-dasharray="3.2,2.3"/>
<path d="M518.20,392.62 L520.30,396.30 L516.10,396.30 Z" fill="#0000ff"/>
<text x="538.4" y="397.90" font-size="9.2" fill="#222">WT Serum + fosfomycin</text>
<path d="M505.7,410.2 H530.7" stroke="#ff0000" stroke-width="1.3"/>
<rect x="515.90" y="407.90" width="4.60" height="4.60" fill="#ff0000"/>
<text x="538.4" y="413.20" font-size="9.2" fill="#222"><tspan font-style="italic">cls2</tspan>::Tn Serum</text>
<path d="M505.7,426.6 H530.7" stroke="#ff0000" stroke-width="1.3" stroke-dasharray="3.2,2.3"/>
<path d="M518.20,424.21 L520.33,428.06 L516.07,428.06 Z" fill="#fff" stroke="#ff0000" stroke-width="1.15" stroke-linejoin="miter"/>
<text x="538.4" y="429.60" font-size="9.2" fill="#222"><tspan font-style="italic">cls2</tspan>::Tn Serum + fosfomycin</text>
<path d="M494.9,424.4 V599.2" stroke="#333333" stroke-width="1.6" fill="none"/>
<path d="M490.09999999999997,599.2 H648.92" stroke="#111" stroke-width="1.6" fill="none"/>
<path d="M490.09999999999997,424.40 H494.9" stroke="#333333" stroke-width="1.3"/>
<path d="M490.09999999999997,468.10 H494.9" stroke="#333333" stroke-width="1.3"/>
<path d="M490.09999999999997,511.80 H494.9" stroke="#333333" stroke-width="1.3"/>
<path d="M490.09999999999997,555.50 H494.9" stroke="#333333" stroke-width="1.3"/>
<text x="489.3" y="427.60" text-anchor="end" font-size="8.5" font-weight="bold">10</text>
<text x="489.3" y="471.30" text-anchor="end" font-size="8.5" font-weight="bold">8</text>
<text x="489.3" y="515.00" text-anchor="end" font-size="8.5" font-weight="bold">6</text>
<text x="489.3" y="558.70" text-anchor="end" font-size="8.5" font-weight="bold">4</text>
<text x="489.3" y="602.40" text-anchor="end" font-size="8.5" font-weight="bold">2</text>
<path d="M494.90,599.2 V603.40" stroke="#333333" stroke-width="1.3"/>
<text x="494.90" y="613.10" text-anchor="middle" font-size="8.5" font-weight="bold">0</text>
<path d="M546.24,599.2 V603.40" stroke="#333333" stroke-width="1.3"/>
<text x="546.24" y="613.10" text-anchor="middle" font-size="8.5" font-weight="bold">2</text>
<path d="M597.58,599.2 V603.40" stroke="#333333" stroke-width="1.3"/>
<text x="597.58" y="613.10" text-anchor="middle" font-size="8.5" font-weight="bold">4</text>
<path d="M648.92,599.2 V603.40" stroke="#333333" stroke-width="1.3"/>
<text x="648.92" y="613.10" text-anchor="middle" font-size="8.5" font-weight="bold">6</text>
<text x="572.2" y="627.3" text-anchor="middle" font-size="9.5" font-weight="bold">Time (h)</text>
<text transform="translate(464.8,506.40) rotate(-90)" text-anchor="middle" font-size="10.9" font-weight="bold">Log<tspan font-size="7.6" dy="2.6">10</tspan><tspan dy="-2.6"> CFU ml</tspan><tspan font-size="7.6" dy="-4.8">-1</tspan></text>
<path d="M546.24,522.40 V548.70" stroke="#000" stroke-width="1.1" fill="none"/>
<path d="M543.94,522.40 H548.54 M543.94,548.70 H548.54" stroke="#000" stroke-width="1.4" fill="none"/>
<path d="M597.58,569.70 V587.30" stroke="#000" stroke-width="1.1" fill="none"/>
<path d="M595.28,569.70 H599.88 M595.28,587.30 H599.88" stroke="#000" stroke-width="1.4" fill="none"/>
<path d="M648.92,564.00 V582.00" stroke="#000" stroke-width="1.1" fill="none"/>
<path d="M646.62,564.00 H651.22 M646.62,582.00 H651.22" stroke="#000" stroke-width="1.4" fill="none"/>
<path d="M595.28,497.60 H599.88" stroke="#000" stroke-width="1.3"/>
<path d="M595.28,533.70 H599.88" stroke="#000" stroke-width="1.3"/>
<polyline points="494.90,473.60 546.24,536.10 597.58,573.80 648.92,573.80" fill="none" stroke="#000" stroke-width="1.3"/>
<circle cx="494.90" cy="473.60" r="2.20" fill="#000"/>
<circle cx="546.24" cy="536.10" r="2.20" fill="#000"/>
<circle cx="597.58" cy="573.80" r="2.20" fill="#000"/>
<circle cx="648.92" cy="573.80" r="2.20" fill="#000"/>
<path d="M597.58,502.90 V521.30" stroke="#ff0000" stroke-width="1.1" fill="none"/>
<path d="M595.28,502.90 H599.88 M595.28,521.30 H599.88" stroke="#ff0000" stroke-width="1.4" fill="none"/>
<path d="M648.92,509.40 V521.00" stroke="#ff0000" stroke-width="1.1" fill="none"/>
<path d="M646.62,509.40 H651.22 M646.62,521.00 H651.22" stroke="#ff0000" stroke-width="1.4" fill="none"/>
<polyline points="494.90,457.50 546.24,482.00 597.58,502.90 648.92,515.30" fill="none" stroke="#ff0000" stroke-width="1.3"/>
<rect x="492.60" y="455.20" width="4.60" height="4.60" fill="#ff0000"/>
<rect x="543.94" y="479.70" width="4.60" height="4.60" fill="#ff0000"/>
<rect x="595.28" y="500.60" width="4.60" height="4.60" fill="#ff0000"/>
<rect x="646.62" y="513.00" width="4.60" height="4.60" fill="#ff0000"/>
<path d="M546.24,516.00 V560.10" stroke="#ff0000" stroke-width="1.1" fill="none"/>
<path d="M543.94,516.00 H548.54 M543.94,560.10 H548.54" stroke="#ff0000" stroke-width="1.4" fill="none"/>
<path d="M597.58,531.80 V579.20" stroke="#ff0000" stroke-width="1.1" fill="none"/>
<path d="M595.28,531.80 H599.88 M595.28,579.20 H599.88" stroke="#ff0000" stroke-width="1.4" fill="none"/>
<path d="M648.92,549.80 V599.20" stroke="#ff0000" stroke-width="1.1" fill="none"/>
<path d="M646.62,549.80 H651.22" stroke="#ff0000" stroke-width="1.4" fill="none"/>
<polyline points="494.90,467.50 546.24,539.90 597.58,555.50 648.92,579.00" fill="none" stroke="#ff0000" stroke-width="1.3" stroke-dasharray="3.2,2.3"/>
<path d="M494.90,465.00 L497.13,469.03 L492.67,469.03 Z" fill="#fff" stroke="#ff0000" stroke-width="1.15" stroke-linejoin="miter"/>
<path d="M546.24,537.40 L548.47,541.43 L544.01,541.43 Z" fill="#fff" stroke="#ff0000" stroke-width="1.15" stroke-linejoin="miter"/>
<path d="M597.58,553.00 L599.81,557.03 L595.35,557.03 Z" fill="#fff" stroke="#ff0000" stroke-width="1.15" stroke-linejoin="miter"/>
<path d="M648.92,576.50 L651.15,580.53 L646.69,580.53 Z" fill="#fff" stroke="#ff0000" stroke-width="1.15" stroke-linejoin="miter"/>
<path d="M648.92,473.20 V480.20" stroke="#0000ff" stroke-width="1.1" fill="none"/>
<path d="M646.62,473.20 H651.22 M646.62,480.20 H651.22" stroke="#0000ff" stroke-width="1.4" fill="none"/>
<polyline points="494.90,460.20 546.24,460.50 597.58,466.80 648.92,476.80" fill="none" stroke="#0000ff" stroke-width="1.3"/>
<rect x="492.50" y="457.80" width="4.80" height="4.80" fill="#0000ff"/>
<rect x="543.84" y="458.10" width="4.80" height="4.80" fill="#0000ff"/>
<rect x="595.18" y="464.40" width="4.80" height="4.80" fill="#0000ff"/>
<rect x="646.52" y="474.40" width="4.80" height="4.80" fill="#0000ff"/>
<path d="M494.90,468.50 V477.50" stroke="#0000ff" stroke-width="1.1" fill="none"/>
<path d="M492.60,468.50 H497.20 M492.60,477.50 H497.20" stroke="#0000ff" stroke-width="1.4" fill="none"/>
<path d="M546.24,480.50 V511.00" stroke="#0000ff" stroke-width="1.1" fill="none"/>
<path d="M543.94,480.50 H548.54 M543.94,511.00 H548.54" stroke="#0000ff" stroke-width="1.4" fill="none"/>
<path d="M597.58,497.60 V527.60" stroke="#0000ff" stroke-width="1.1" fill="none"/>
<path d="M595.28,497.60 H599.88 M595.28,527.60 H599.88" stroke="#0000ff" stroke-width="1.4" fill="none"/>
<path d="M648.92,506.60 V532.10" stroke="#0000ff" stroke-width="1.1" fill="none"/>
<path d="M646.62,506.60 H651.22 M646.62,532.10 H651.22" stroke="#0000ff" stroke-width="1.4" fill="none"/>
<polyline points="494.90,473.20 546.24,497.70 597.58,514.70 648.92,520.40" fill="none" stroke="#0000ff" stroke-width="1.3" stroke-dasharray="3.2,2.3"/>
<path d="M494.90,470.81 L497.10,474.66 L492.70,474.66 Z" fill="#0000ff"/>
<path d="M546.24,495.31 L548.44,499.16 L544.04,499.16 Z" fill="#0000ff"/>
<path d="M597.58,512.31 L599.78,516.16 L595.38,516.16 Z" fill="#0000ff"/>
<path d="M648.92,518.01 L651.12,521.86 L646.72,521.86 Z" fill="#0000ff"/>
<polygon points="551.50,474.55 552.15,476.11 553.83,476.24 552.55,477.34 552.94,478.98 551.50,478.10 550.06,478.98 550.45,477.34 549.17,476.24 550.85,476.11" fill="#222"/>
<polygon points="538.00,538.25 538.65,539.81 540.33,539.94 539.05,541.04 539.44,542.68 538.00,541.80 536.56,542.68 536.95,541.04 535.67,539.94 537.35,539.81" fill="#222"/>
<polygon points="604.70,494.35 605.35,495.91 607.03,496.04 605.75,497.14 606.14,498.78 604.70,497.90 603.26,498.78 603.65,497.14 602.37,496.04 604.05,495.91" fill="#222"/>
<polygon points="604.70,577.55 605.35,579.11 607.03,579.24 605.75,580.34 606.14,581.98 604.70,581.10 603.26,581.98 603.65,580.34 602.37,579.24 604.05,579.11" fill="#222"/>
<polygon points="656.60,509.05 657.25,510.61 658.93,510.74 657.65,511.84 658.04,513.48 656.60,512.60 655.16,513.48 655.55,511.84 654.27,510.74 655.95,510.61" fill="#222"/>
<polygon points="657.90,565.85 658.55,567.41 660.23,567.54 658.95,568.64 659.34,570.28 657.90,569.40 656.46,570.28 656.85,568.64 655.57,567.54 657.25,567.41" fill="#222"/>
<polygon points="657.90,577.15 658.55,578.71 660.23,578.84 658.95,579.94 659.34,581.58 657.90,580.70 656.46,581.58 656.85,579.94 655.57,578.84 657.25,578.71" fill="#222"/>
</g>
</svg></body></html>
